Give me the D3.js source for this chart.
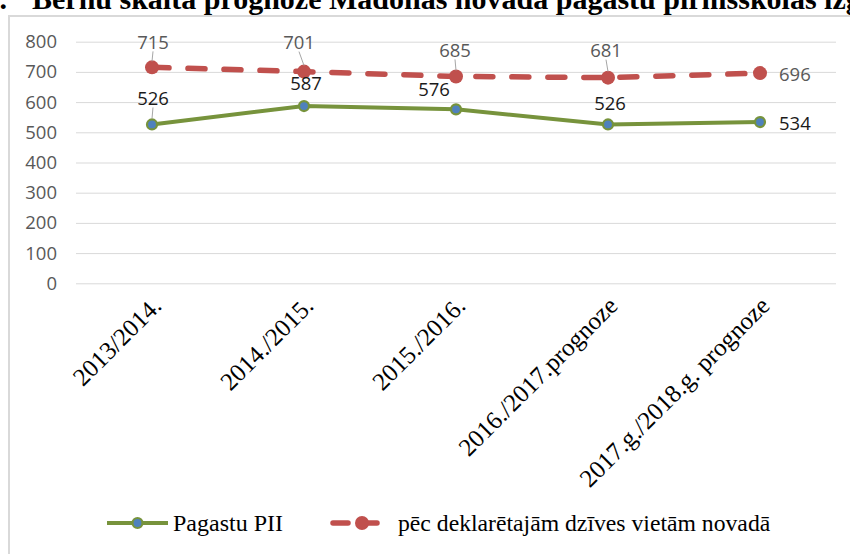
<!DOCTYPE html>
<html>
<head>
<meta charset="utf-8">
<script src="https://cdn.jsdelivr.net/npm/d3@7"></script>
<style>
  html, body { margin: 0; padding: 0; background: #fff; }
  svg { display: block; }
</style>
</head>
<body>
<svg id="chart" width="850" height="554"></svg>
<script>
// ---- data ----
const categories = ["2013/2014.", "2014./2015.", "2015./2016.", "2016./2017.prognoze", "2017.g./2018.g. prognoze"];
const pagastuPII = [526, 587, 576, 526, 534];
const deklaretajam = [715, 701, 685, 681, 696];
const yTicks = [0, 100, 200, 300, 400, 500, 600, 700, 800];
const seriesNames = ["Pagastu PII", "pēc deklarētajām dzīves vietām novadā"];
const titleNumber = "3.";
const titleText = "Bērnu skaita prognoze Madonas novada pagastu pirmsskolas izglītības iestādēs";

// label offsets (dx, dy) relative to points, style only
const greenLabelOff = [[1, -27], [2, -24], [-22, -21], [2, -22], [null, 0]];
const redLabelOff = [[1, -26], [-5, -30], [-1, -27], [-2, -28], [null, 0]];

const svg = d3.select("#chart");
const numFont = "'Open Sans', sans-serif";
const numSize = 18.5;

// title (clipped at top)
svg.append("text").attr("x", 7).attr("y", 9).attr("text-anchor", "end")
  .attr("font-family", "'Liberation Serif', serif").attr("font-weight", "bold")
  .attr("font-size", 30).attr("fill", "#000").text(titleNumber);
svg.append("text").attr("x", 32).attr("y", 9)
  .attr("font-family", "'Liberation Serif', serif").attr("font-weight", "bold")
  .attr("font-size", 30).attr("fill", "#000").text(titleText);

// chart border
svg.append("rect").attr("x", 9).attr("y", 16).attr("width", 900).attr("height", 600)
  .attr("fill", "#fff").attr("stroke", "#D9D9D9").attr("stroke-width", 2);

const x = d3.scaleBand().domain(categories).range([76, 836]);
const y = d3.scaleLinear().domain([0, 800]).range([283.3, 41.7]);
const cx = d => x(d) + x.bandwidth() / 2;

// y axis with gridlines
const yAxis = svg.append("g").attr("transform", "translate(76,0)")
  .call(d3.axisLeft(y).tickValues(yTicks).tickSize(-760).tickPadding(19).tickFormat(d3.format("d")));
yAxis.select(".domain").remove();
yAxis.selectAll(".tick line").attr("stroke", "#D9D9D9").attr("stroke-width", 1);
yAxis.selectAll(".tick text").attr("font-family", numFont)
  .attr("font-size", numSize).attr("fill", "#595959");

// x axis labels
const xAxis = svg.append("g").attr("transform", "translate(0,283.3)")
  .call(d3.axisBottom(x).tickSize(0).tickPadding(0));
xAxis.select(".domain").remove();
xAxis.selectAll(".tick text")
  .attr("font-family", "'Liberation Serif', serif").attr("font-size", 25).attr("fill", "#000")
  .attr("text-anchor", "end").attr("dy", null).attr("y", 0)
  .attr("transform", "translate(11,24) rotate(-45)");

// red dashed series
const line = d3.line().x((d, i) => cx(categories[i])).y(d => y(d));
svg.append("path").datum(deklaretajam).attr("d", line)
  .attr("fill", "none").attr("stroke", "#C0504D").attr("stroke-width", 5.5)
  .attr("stroke-dasharray", "17,19").attr("stroke-linecap", "round");
svg.selectAll(".rdot").data(deklaretajam).enter().append("circle")
  .attr("cx", (d, i) => cx(categories[i])).attr("cy", d => y(d)).attr("r", 7)
  .attr("fill", "#C0504D");

// green series
svg.append("path").datum(pagastuPII).attr("d", line)
  .attr("fill", "none").attr("stroke", "#77933C").attr("stroke-width", 4);
svg.selectAll(".gdot").data(pagastuPII).enter().append("circle")
  .attr("cx", (d, i) => cx(categories[i])).attr("cy", d => y(d)).attr("r", 5)
  .attr("fill", "#4F81BD").attr("stroke", "#77933C").attr("stroke-width", 2.2);

// leader lines
function leader(vals, offs, idxs) {
  idxs.forEach(i => {
    const px = cx(categories[i]), py = y(vals[i]);
    const lx = px + offs[i][0], ly = py + offs[i][1];
    svg.append("line").attr("x1", lx).attr("y1", ly + 10).attr("x2", px).attr("y2", py - 6)
      .attr("stroke", "#A6A6A6").attr("stroke-width", 1);
  });
}
leader(deklaretajam, redLabelOff, [0, 1, 2, 3]);
leader(pagastuPII, greenLabelOff, [0]);

// data labels
function labels(vals, offs, color) {
  vals.forEach((v, i) => {
    const px = cx(categories[i]), py = y(v);
    const o = offs[i];
    const t = svg.append("text").attr("font-family", numFont)
      .attr("font-size", numSize).attr("fill", color).attr("dominant-baseline", "central").text(v);
    if (o[0] === null) {
      t.attr("x", px + 19).attr("y", py + o[1]).attr("text-anchor", "start");
    } else {
      t.attr("x", px + o[0]).attr("y", py + o[1]).attr("text-anchor", "middle");
    }
  });
}
labels(deklaretajam, redLabelOff, "#595959");
labels(pagastuPII, greenLabelOff, "#1a1a1a");

// legend
const ly = 523;
const lg = svg.append("g");
lg.append("line").attr("x1", 107).attr("x2", 168).attr("y1", ly).attr("y2", ly)
  .attr("stroke", "#77933C").attr("stroke-width", 4);
lg.append("circle").attr("cx", 137.5).attr("cy", ly).attr("r", 5)
  .attr("fill", "#4F81BD").attr("stroke", "#77933C").attr("stroke-width", 2.2);
lg.append("text").attr("x", 173).attr("y", ly).attr("dominant-baseline", "central")
  .attr("font-family", "'Liberation Serif', serif").attr("font-size", 24).attr("fill", "#000")
  .text(seriesNames[0]);
lg.append("line").attr("x1", 333).attr("x2", 391).attr("y1", ly).attr("y2", ly)
  .attr("stroke", "#C0504D").attr("stroke-width", 5.5)
  .attr("stroke-dasharray", "15,14").attr("stroke-linecap", "round");
lg.append("circle").attr("cx", 362).attr("cy", ly).attr("r", 7).attr("fill", "#C0504D");
lg.append("text").attr("x", 398).attr("y", ly).attr("dominant-baseline", "central")
  .attr("font-family", "'Liberation Serif', serif").attr("font-size", 23.7).attr("fill", "#000")
  .text(seriesNames[1]);
</script>
</body>
</html>
